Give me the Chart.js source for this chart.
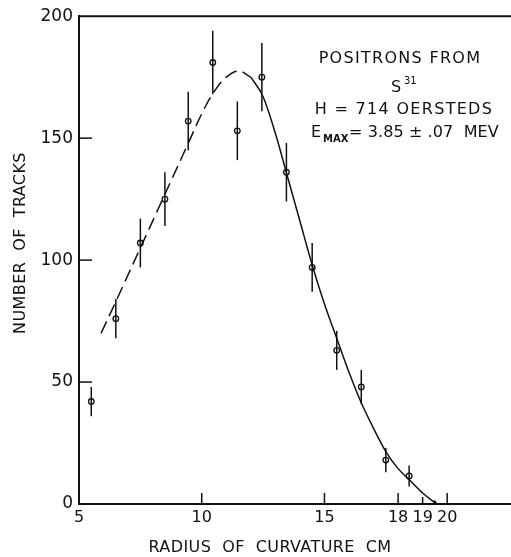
<!DOCTYPE html>
<html>
<head>
<meta charset="utf-8">
<script src="https://cdn.jsdelivr.net/npm/chart.js@4/dist/chart.umd.min.js"></script>
<style>
  html, body { margin: 0; padding: 0; background: #fff; }
  #wrap { width: 511px; height: 557px; position: relative; }
</style>
</head>
<body>
<div id="wrap"><canvas id="c"></canvas></div>
<script>
// measured points: radius of curvature (cm) vs number of tracks, with +/- errors
const radius   = [5.5, 6.5, 7.5, 8.5, 9.45, 10.45, 11.45, 12.45, 13.45, 14.5, 15.5, 16.5, 17.5, 18.45];
const tracks   = [42, 76, 107, 125, 157, 181, 153, 175, 136, 97, 63, 48, 18, 11.5];
const trackErr = [6, 8, 10, 11, 12, 13, 12, 14, 12, 10, 8, 7, 5, 4.3];

// fitted spectrum: dashed (extrapolated) part and solid part
const dashX = [5.9, 6.5, 7.5, 8.5, 9.5, 10.0, 10.5, 11.0, 11.5, 12.0];
const dashY = [70, 83, 105, 127, 149, 160, 169, 175, 177.5, 175];
const fitX  = [12.0, 12.5, 13.0, 13.5, 14.0, 14.5, 15.0, 15.5, 16.0, 16.5, 17.0, 17.5, 18.0, 18.5, 19.0, 19.5];
const fitY  = [175, 167, 152, 134, 116, 98, 82, 68, 54, 41.5, 31, 21.5, 14.5, 9.5, 4.5, 0.5];

// end point of the spectrum (E max)
const endX = [19.5];
const endY = [0];

const xTicks = [5, 10, 15, 18, 19, 20];
const xMarks = [10, 15, 18, 19, 20];
const yMarks = [50, 100, 150];

const FONT = "'DejaVu Sans', sans-serif";
const INK = '#111';

const pts = (xs, ys) => xs.map((x, i) => ({ x, y: ys[i] }));

// error bars, inner tick marks, frame and the text labels
const extras = {
  id: 'extras',
  afterDatasetsDraw(chart) {
    const { ctx, chartArea: a, scales: { x, y } } = chart;
    ctx.save();
    ctx.strokeStyle = INK;

    // error bars
    ctx.lineWidth = 1.5;
    radius.forEach((r, i) => {
      const px = x.getPixelForValue(r);
      ctx.beginPath();
      ctx.moveTo(px, y.getPixelForValue(tracks[i] + trackErr[i]));
      ctx.lineTo(px, y.getPixelForValue(tracks[i] - trackErr[i]));
      ctx.stroke();
    });

    // top frame line
    ctx.lineWidth = 2;
    ctx.beginPath();
    ctx.moveTo(a.left, a.top);
    ctx.lineTo(a.right, a.top);
    ctx.stroke();

    // tick marks pointing into the plot
    ctx.lineWidth = 1.5;
    yMarks.forEach(v => {
      const py = y.getPixelForValue(v);
      ctx.beginPath(); ctx.moveTo(a.left, py); ctx.lineTo(a.left + 13, py); ctx.stroke();
    });
    xMarks.forEach(v => {
      const px = x.getPixelForValue(v);
      ctx.beginPath(); ctx.moveTo(px, a.bottom); ctx.lineTo(px, a.bottom - (v === 19 ? 7 : 11)); ctx.stroke();
    });

    ctx.fillStyle = INK;
    ctx.textBaseline = 'middle';

    // axis titles
    ctx.font = '16px ' + FONT;
    ctx.letterSpacing = '0.4px';
    ctx.textAlign = 'center';
    ctx.fillText('RADIUS  OF  CURVATURE  CM', 270, 548);
    ctx.save();
    ctx.translate(21, 243);
    ctx.rotate(-Math.PI / 2);
    ctx.fillText('NUMBER  OF  TRACKS', 0, 0);
    ctx.restore();

    // legend text block
    ctx.letterSpacing = '1.3px';
    ctx.fillText('POSITRONS FROM', 400, 59);
    ctx.fillText('H = 714 OERSTEDS', 404, 110);
    ctx.textAlign = 'left';
    ctx.fillText('S', 391, 88);
    ctx.font = '10px ' + FONT;
    ctx.letterSpacing = '0px';
    ctx.fillText('31', 404, 81);

    ctx.font = '16px ' + FONT;
    ctx.fillText('E', 311, 133);
    ctx.font = 'bold 10px ' + FONT;
    ctx.fillText('MAX', 323, 139);
    ctx.font = '16px ' + FONT;
    ctx.letterSpacing = '0.1px';
    ctx.fillText('= 3.85 \u00b1 .07  MEV', 349, 133);

    ctx.restore();
  }
};

new Chart(document.getElementById('c'), {
  type: 'scatter',
  data: {
    datasets: [
      {
        data: pts(dashX, dashY), showLine: true, borderColor: INK, borderWidth: 1.5,
        borderDash: [13, 6], pointRadius: 0, tension: 0.4
      },
      {
        data: pts(fitX, fitY), showLine: true, borderColor: INK, borderWidth: 1.5,
        pointRadius: 0, cubicInterpolationMode: 'monotone'
      },
      {
        data: pts(radius, tracks), pointRadius: 2.8, pointBorderWidth: 1.3,
        pointBackgroundColor: '#fff', pointBorderColor: INK
      },
      {
        data: pts(endX, endY), pointStyle: 'triangle', pointRadius: 3.5,
        pointBackgroundColor: INK, pointBorderColor: INK, pointBorderWidth: 1
      }
    ]
  },
  options: {
    responsive: true,
    maintainAspectRatio: false,
    animation: false,
    layout: { autoPadding: false, padding: { top: 15, right: 0, left: 0, bottom: 0 } },
    plugins: { legend: { display: false }, tooltip: { enabled: false } },
    scales: {
      x: {
        type: 'linear', min: 5, max: 22.6,
        afterBuildTicks: s => { s.ticks = xTicks.map(v => ({ value: v })); },
        afterFit: s => { s.height = 53; },
        grid: { display: false, drawTicks: false },
        border: { display: true, color: INK, width: 2 },
        ticks: { color: INK, font: { family: FONT, size: 16 }, padding: 4, maxRotation: 0, autoSkip: false }
      },
      y: {
        min: 0, max: 200,
        afterFit: s => { s.width = 79; },
        grid: { display: false, drawTicks: false },
        border: { display: true, color: INK, width: 2 },
        ticks: { stepSize: 50, color: INK, font: { family: FONT, size: 17 }, padding: 6 }
      }
    }
  },
  plugins: [extras]
});
</script>
</body>
</html>
